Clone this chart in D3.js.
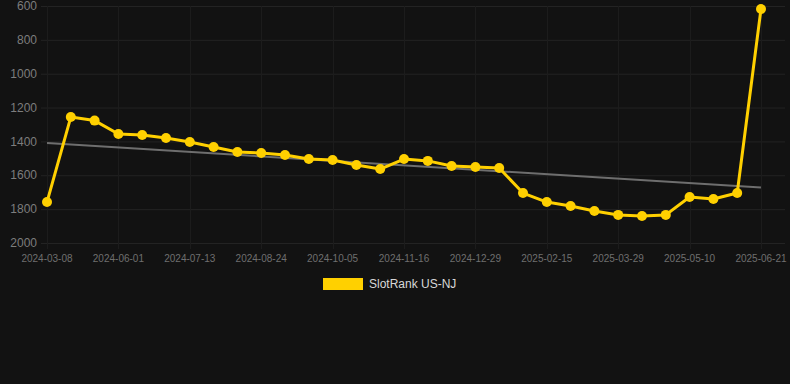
<!DOCTYPE html>
<html lang="en">

<head>
  <meta charset="UTF-8">
  <title>SlotRank US-NJ</title>
  <style>
    body {
      margin: 0;
      background: #121212;
    }

    .warp {
      width: 790px;
      height: 384px;
    }

    text {
      font-family: "Liberation Sans", Arial, sans-serif;
    }
  </style>
</head>

<body>
  <div class="warp"></div>
  <script src="https://cdn.jsdelivr.net/npm/d3@7/dist/d3.min.js"></script>
  <script>
    // dates for each point (categorical axis, label on every 3rd)
    var dates = [
      '2024-03-08', '2024-05-04', '2024-05-18', '2024-06-01', '2024-06-15', '2024-06-29',
      '2024-07-13', '2024-07-27', '2024-08-10', '2024-08-24', '2024-09-07', '2024-09-21',
      '2024-10-05', '2024-10-19', '2024-11-02', '2024-11-16', '2024-11-30', '2024-12-14',
      '2024-12-29', '2025-01-11', '2025-01-25', '2025-02-15', '2025-03-01', '2025-03-15',
      '2025-03-29', '2025-04-12', '2025-04-26', '2025-05-10', '2025-05-24', '2025-06-07',
      '2025-06-21'
    ];
    var ranks = [
      1758, 1256, 1277, 1356, 1362, 1380, 1403, 1433, 1462, 1468, 1480, 1504,
      1510, 1539, 1563, 1504, 1515, 1545, 1551, 1557, 1705, 1758, 1781, 1811,
      1834, 1840, 1834, 1728, 1740, 1705, 618
    ];
    var yTicks = [600, 800, 1000, 1200, 1400, 1600, 1800, 2000];
    var seriesName = 'SlotRank US-NJ';

    var width = 790, height = 384;
    var plotLeft = 41, plotRight = 785, plotTop = 6, plotBottom = 243;

    var svg = d3.select('.warp').append('svg')
      .attr('width', width)
      .attr('height', height);

    var x = d3.scalePoint()
      .domain(d3.range(dates.length))
      .range([47, 761]);

    var y = d3.scaleLinear()
      .domain([600, 2000])
      .range([plotTop, plotBottom]);

    var labelIdx = d3.range(0, dates.length, 3);

    // grid
    var grid = svg.append('g');
    grid.selectAll('line.h')
      .data(yTicks)
      .enter()
      .append('line')
      .attr('x1', plotLeft)
      .attr('x2', plotRight)
      .attr('y1', d => y(d) + 0.5)
      .attr('y2', d => y(d) + 0.5)
      .attr('stroke', '#232323')
      .attr('stroke-width', 1);
    grid.selectAll('line.v')
      .data(labelIdx)
      .enter()
      .append('line')
      .attr('x1', d => Math.round(x(d)) + 0.5)
      .attr('x2', d => Math.round(x(d)) + 0.5)
      .attr('y1', plotTop)
      .attr('y2', plotBottom + 6)
      .attr('stroke', '#1c1c1c')
      .attr('stroke-width', 1);

    // y axis labels
    svg.append('g').selectAll('text')
      .data(yTicks)
      .enter()
      .append('text')
      .attr('x', 37)
      .attr('y', d => y(d))
      .attr('dy', '0.35em')
      .attr('text-anchor', 'end')
      .attr('fill', '#7d7d7d')
      .style('font-size', '12px')
      .text(d => d);

    // x axis labels
    svg.append('g').selectAll('text')
      .data(labelIdx)
      .enter()
      .append('text')
      .attr('x', d => x(d))
      .attr('y', 262)
      .attr('text-anchor', 'middle')
      .attr('fill', '#6f6f6f')
      .style('font-size', '10px')
      .text(d => dates[d]);

    // linear trend
    var n = ranks.length;
    var mx = d3.mean(d3.range(n));
    var my = d3.mean(ranks);
    var sxy = d3.sum(ranks, (v, i) => (i - mx) * (v - my));
    var sxx = d3.sum(d3.range(n), i => (i - mx) * (i - mx));
    var slope = sxy / sxx;
    var icpt = my - slope * mx;
    svg.append('line')
      .attr('x1', x(0))
      .attr('y1', y(icpt))
      .attr('x2', x(n - 1))
      .attr('y2', y(icpt + slope * (n - 1)))
      .attr('stroke', '#6e6e6e')
      .attr('stroke-width', 2);

    // series
    var line = d3.line()
      .x((d, i) => x(i))
      .y(d => y(d));
    svg.append('path')
      .datum(ranks)
      .attr('d', line)
      .attr('fill', 'none')
      .attr('stroke', '#ffd000')
      .attr('stroke-width', 3)
      .attr('stroke-linejoin', 'round');
    svg.append('g').selectAll('circle')
      .data(ranks)
      .enter()
      .append('circle')
      .attr('cx', (d, i) => x(i))
      .attr('cy', d => y(d))
      .attr('r', 5)
      .attr('fill', '#ffd000');

    // legend
    var legend = svg.append('g');
    legend.append('rect')
      .attr('x', 323)
      .attr('y', 278)
      .attr('width', 40)
      .attr('height', 12)
      .attr('fill', '#ffd000');
    legend.append('text')
      .attr('x', 369)
      .attr('y', 284)
      .attr('dy', '0.35em')
      .attr('fill', '#d8d8d8')
      .style('font-size', '12px')
      .text(seriesName);
  </script>
</body>

</html>
